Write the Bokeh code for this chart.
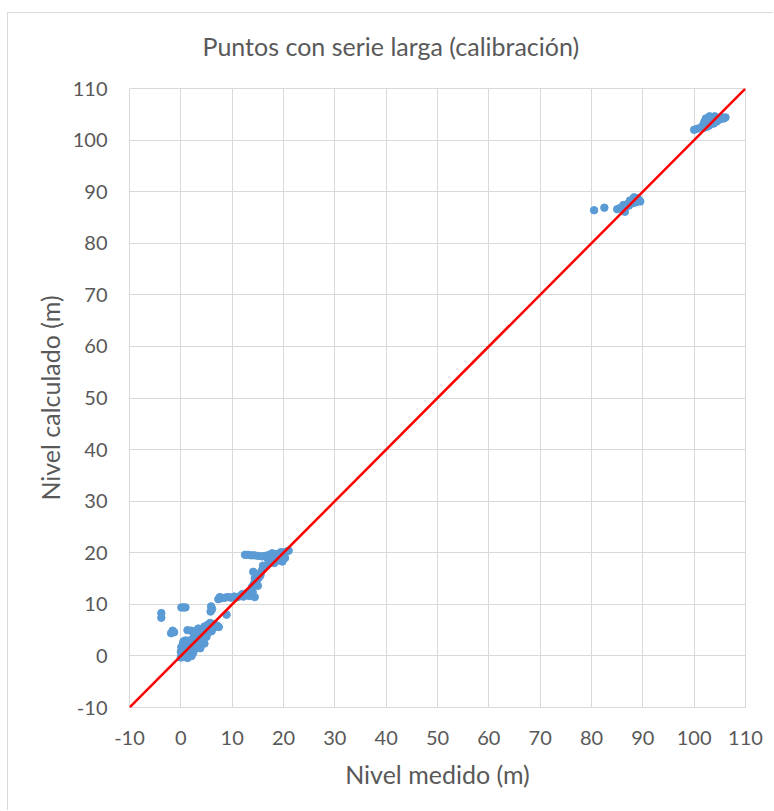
from bokeh.plotting import figure
from bokeh.models import Range1d, FixedTicker, Title, ColumnDataSource
from bokeh.embed import file_html
from bokeh.resources import INLINE

# ---- data ----
nivel_medido = [
    -3.8, -3.8, -1.6, -1.9, -1.3, 0.1, 0.5, 0.9, 1.3, 2.0, 5.9, 5.8, 6.1, 8.9,
    0.0, 0.2, 0.0, 0.3, 0.1, 0.4, 0.6, 0.8, 1.0, 1.2, 1.1, 1.5, 1.6, 1.9, 2.0, 2.2,
    2.4, 2.6, 2.8, 3.0, 3.1, 2.1, 1.3, 3.3, 3.6, 3.8, 4.0, 4.3, 4.6, 0.5, 0.9, 1.7,
    2.5, 3.4, 2.9,
    2.6, 3.0, 3.4, 3.8, 4.1, 4.4, 4.6, 4.9, 5.2, 5.5, 5.7, 6.0, 6.3, 6.6, 7.0, 7.4,
    5.0, 4.2, 3.6, 5.4, 6.0,
    7.3, 7.6, 8.0, 8.6, 9.2, 9.8, 10.4, 11.0, 11.6, 12.2, 12.8, 13.4, 14.4, 12.0, 13.0,
    13.6, 13.9, 14.2, 14.6, 14.9, 15.2, 15.5, 14.0, 15.0, 14.4, 14.1, 15.6, 15.9, 16.3,
    16.8, 17.2, 17.7, 18.1, 18.6, 16.0,
    12.5, 13.1, 13.7, 14.3, 15.0, 15.8, 16.5, 17.2, 17.8, 18.4, 19.0, 19.5, 20.0, 20.5,
    21.0, 17.5, 18.2, 19.2, 19.8, 20.3, 18.8, 16.9, 19.6,
    80.5, 82.5, 85.0, 85.5, 86.0, 86.5, 86.8, 87.0, 87.3, 87.6, 87.9, 88.2, 88.5, 88.8,
    89.0, 89.3, 88.3, 87.5, 89.5, 86.2,
    100.0, 100.6, 101.4, 101.8, 102.0, 102.3, 102.6, 102.9, 103.2, 103.5, 103.8, 104.1,
    104.4, 104.7, 105.0, 105.4, 105.8, 106.1, 102.5, 103.0, 104.0, 101.9,
]
nivel_calculado = [
    8.3, 7.4, 4.9, 4.4, 4.6, 9.4, 9.4, 9.4, 5.0, 4.9, 9.6, 8.6, 9.1, 8.0,
    -0.3, 0.2, 0.8, 1.2, 1.7, 2.2, -0.2, 0.5, 1.0, 1.6, 2.4, 0.1, 0.8, 1.4, 2.0, 2.7,
    0.6, 1.2, 1.9, 2.5, 3.1, 0.0, -0.4, 1.6, 2.2, 1.5, 2.8, 3.3, 2.4, 2.8, 3.0, 3.0,
    3.4, 4.0, 3.8,
    4.0, 4.9, 5.3, 4.5, 5.0, 4.1, 5.7, 5.2, 6.0, 5.5, 6.4, 5.8, 6.2, 5.6, 5.9, 5.6,
    3.7, 3.6, 3.4, 4.6, 4.8,
    11.0, 11.4, 11.2, 11.3, 11.4, 11.3, 11.5, 11.4, 11.6, 11.5, 11.8, 11.6, 11.4, 12.0, 12.3,
    12.8, 13.4, 13.9, 14.3, 14.8, 15.2, 15.6, 12.4, 13.6, 15.0, 16.3, 16.2, 16.8, 17.2,
    17.6, 18.0, 18.3, 18.6, 18.8, 17.5,
    19.6, 19.6, 19.5, 19.5, 19.4, 19.3, 19.4, 19.6, 19.9, 19.7, 19.8, 20.1, 20.0, 20.2,
    20.4, 18.6, 18.0, 18.5, 18.3, 19.0, 19.2, 18.9, 19.5,
    86.4, 86.9, 86.6, 86.8, 86.9, 86.1, 87.2, 87.6, 87.3, 87.9, 88.2, 87.8, 88.4, 88.0,
    88.7, 88.3, 88.9, 88.3, 88.1, 87.4,
    102.0, 102.2, 102.5, 103.0, 103.6, 104.2, 103.4, 102.8, 103.9, 104.4, 103.2, 104.0,
    103.6, 104.3, 104.0, 104.4, 104.2, 104.4, 102.6, 104.6, 104.6, 102.4,
]
linea_x = [-10, 110]
linea_y = [-10, 110]
tick_values = [-10, 0, 10, 20, 30, 40, 50, 60, 70, 80, 90, 100, 110]
tick_labels = ["-10", "0", "10", "20", "30", "40", "50", "60", "70", "80", "90", "100", "110"]
chart_title = "Puntos con serie larga (calibración)"

TXT = "#595959"
GRID = "#d9d9d9"
FONT = "Lato"

p = figure(
    width=766, height=798,
    x_range=Range1d(-10, 110), y_range=Range1d(-10, 110),
    output_backend="svg", toolbar_location=None,
    min_border_left=121, min_border_right=29, min_border_top=75, min_border_bottom=104,
)
p.margin = (12, 0, 0, 7)
p.styles = {"border-top": "1px solid #d9d9d9", "border-left": "1px solid #d9d9d9"}

# spacer between plot frame and title, then the real title above it
p.add_layout(Title(text=" ", text_font_size="1px", standoff=25), "above")
p.add_layout(Title(text=chart_title, align="left", offset=73, standoff=0,
                   text_font=FONT, text_font_size="25px",
                   text_font_style="normal", text_color=TXT), "above")

p.background_fill_color = "white"
p.border_fill_color = "white"
p.outline_line_color = GRID
p.outline_line_width = 1

for ax in (p.xaxis, p.yaxis):
    ax.ticker = FixedTicker(ticks=tick_values)
    ax.major_label_overrides = {v: l for v, l in zip(tick_values, tick_labels)}
    ax.axis_line_color = None
    ax.major_tick_line_color = None
    ax.minor_tick_line_color = None
    ax.major_label_text_font = FONT
    ax.major_label_text_font_size = "20px"
    ax.major_label_text_color = TXT
    ax.axis_label_text_font = FONT
    ax.axis_label_text_font_size = "25px"
    ax.axis_label_text_font_style = "normal"
    ax.axis_label_text_color = TXT

p.xaxis.axis_label = "Nivel medido (m)"
p.yaxis.axis_label = "Nivel calculado (m)"
p.xaxis.major_label_standoff = 17
p.yaxis.major_label_standoff = 16
p.xaxis.axis_label_standoff = 11
p.yaxis.axis_label_standoff = 5

p.xgrid.ticker = FixedTicker(ticks=tick_values)
p.ygrid.ticker = FixedTicker(ticks=tick_values)
for g in (p.xgrid, p.ygrid):
    g.grid_line_color = GRID
    g.grid_line_width = 1

src = ColumnDataSource(dict(x=nivel_medido, y=nivel_calculado))
p.scatter("x", "y", source=src, size=7.5, marker="circle",
          fill_color="#5B9BD5", line_color="#5B9BD5")

p.line(linea_x, linea_y, line_color="#FF0000", line_width=2.5)

open("out.html", "w").write(file_html(p, INLINE))
